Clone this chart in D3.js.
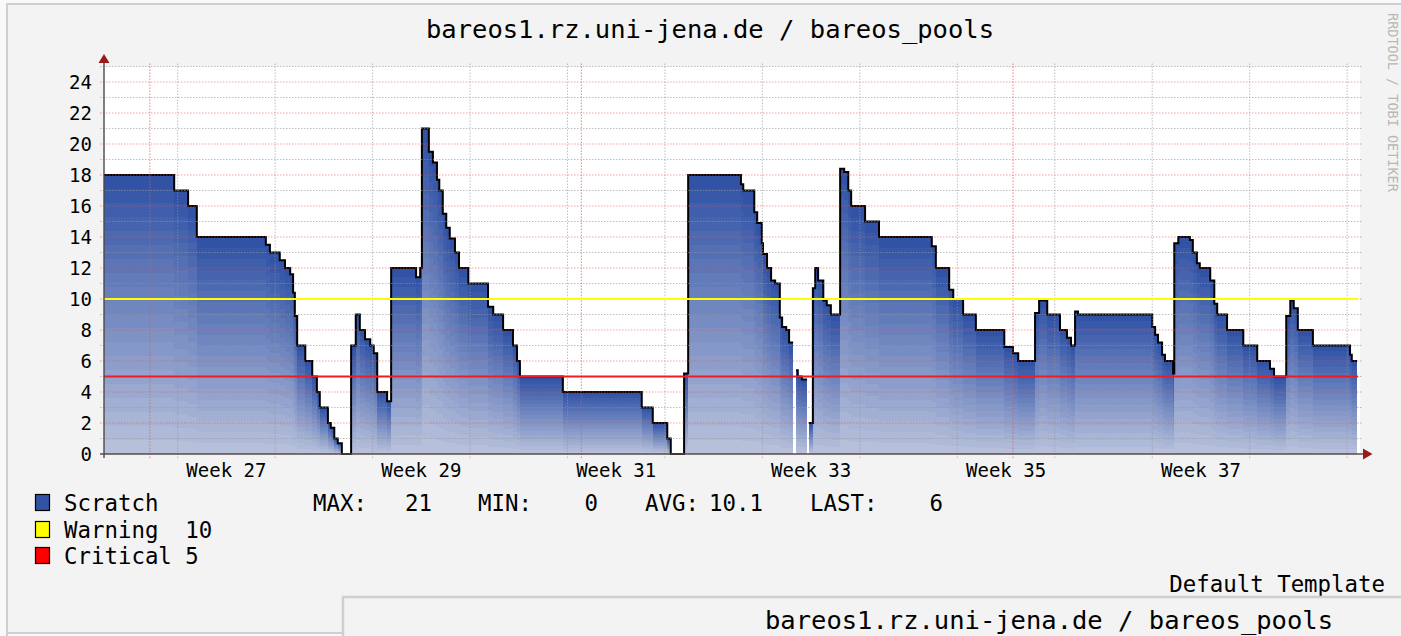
<!DOCTYPE html>
<html><head><meta charset="utf-8">
<script src="https://cdn.jsdelivr.net/npm/d3@7"></script>
<style>
html,body{margin:0;padding:0;background:#f8f9fa;overflow:hidden;}
svg{display:block;}
text{font-family:"DejaVu Sans Mono",monospace;}
</style></head><body>
<svg id="chart" width="1401" height="636"></svg>
<script>
// ---- data ----
const chartTitle = "bareos1.rz.uni-jena.de / bareos_pools";
const startTime = "2017-06-27T17:00:00Z";
const endTime   = "2017-09-25T17:00:00Z";
// hour offsets (from startTime) at which each step value begins
const stepHours = [0,121,145,160,279,286,303,312,321,326,
  329,333,347,359,367,372,386,391,397,403,
  410,426,434,441,450,459,465,471,488,495,
  538,545,548,560,567,574,578,584,590,596,
  605,612,628,662,671,688,705,712,717,791,
  927,946,971,977,1000,1007,1098,1102,1121,1126,
  1134,1136,1143,1150,1157,1165,1169,1176,1181,1188,
  1193,1196,1203,1212,1215,1222,1226,1231,1240,1246,
  1253,1269,1276,1283,1288,1312,1336,1427,1434,1457,
  1464,1481,1503,1552,1567,1576,1605,1612,1626,1648,
  1660,1667,1674,1679,1807,1812,1817,1824,1829,1843,
  1845,1852,1872,1877,1884,1889,1907,1914,1919,1936,
  1964,1988,2010,2017,2038,2045,2051,2058,2084,2148,2151];
// Scratch volumes (null = no data)
const scratchValues = [18,17,16,14,13.5,13,12.5,12,11.6,10.4,
  8.9,7,6,5,4,3,2,1.7,1,0.7,
  0,7,9,8,7.4,7,6.5,4,3.4,12,
  11.4,12,21,19.5,18.8,17.7,17,15.5,14.6,13.9,
  13,12,11,9.5,9,8,7,6,5,4,
  3,2,1,0,5.2,18,17.4,17,15.6,14.9,
  13.6,12.9,12,11.2,11,8.8,8.2,8,7.2,null,
  5.4,5,4.8,null,2,10.7,12,11.2,9.9,9.6,
  9,18.4,18.2,17,16,15,14,13.4,12,10.6,
  10,9,8,6.9,6.5,6,9.1,9.9,9,8,
  7.5,7,9.2,9,8.2,7.7,7.2,6.4,6,5.2,
  13.6,14,13.8,13,12.3,12,11.2,9.7,9,8,
  7,6,5.5,5,8.9,9.9,9.4,8,7,6.4,6];
const warningLevel = 10;
const criticalLevel = 5;
const yTicks = [0,2,4,6,8,10,12,14,16,18,20,22,24];
const yMax = 25;
const weekLabels = ["Week 27","Week 29","Week 31","Week 33","Week 35","Week 37"];
const weekLabelStarts = ["2017-07-03","2017-07-17","2017-07-31","2017-08-14","2017-08-28","2017-09-11"];
const statLabels = ["MAX:","MIN:","AVG:","LAST:"];
const statValues = ["21","0","10.1","6"];
const legendNames = ["Scratch","Warning  10","Critical 5"];
const legendColors = ["#3152A5","#FFFF00","#FF0000"];

// ---- drawing ----
const svg = d3.select("#chart");
const W = 1401, H = 636;
const T0 = new Date(startTime), T1 = new Date(endTime);
const HOUR = 3600e3;

const x = d3.scaleUtc().domain([T0, T1]).range([104, 1357]);
const y = d3.scaleLinear().domain([0, yMax]).range([454, 66.5]);
const plotL = 104, plotR = 1360, plotT = y(yMax), plotB = y(0);

// page & panel
svg.append("rect").attr("width", W).attr("height", H).attr("fill", "#f8f9fa");
svg.append("rect").attr("x", 7).attr("y", 4).attr("width", W).attr("height", 630).attr("fill", "#f3f3f3");
svg.append("line").attr("x1", 6).attr("x2", W).attr("y1", 4).attr("y2", 4).attr("stroke", "#cfcfcf").attr("stroke-width", 2);
svg.append("line").attr("x1", 7).attr("x2", 7).attr("y1", 3).attr("y2", H).attr("stroke", "#cfcfcf").attr("stroke-width", 2);
svg.append("line").attr("x1", 6).attr("x2", 344).attr("y1", 633).attr("y2", 633).attr("stroke", "#cfcfcf").attr("stroke-width", 2);

// canvas
svg.append("rect").attr("x", plotL).attr("y", plotT).attr("width", plotR - plotL).attr("height", plotB - plotT).attr("fill", "#ffffff");

// build step points
const pts = [];
stepHours.forEach((h, i) => {
  const t0 = new Date(+T0 + h * HOUR);
  const t1 = i + 1 < stepHours.length ? new Date(+T0 + stepHours[i + 1] * HOUR) : T1;
  const v = scratchValues[i];
  if (v === null) { pts.push({t: t0, v: null}); return; }
  pts.push({t: t0, v: v}, {t: t1, v: v});
});

// gradient areas (20 steps)
const steps = 20;
const light = d3.rgb("#BDC6DE"), dark = d3.rgb("#3152A5");
const interp = d3.interpolateRgb(light, dark);
const gArea = svg.append("g");
for (let k = steps; k >= 1; k--) {
  const area = d3.area()
    .defined(d => d.v !== null)
    .x(d => x(d.t))
    .y0(plotB)
    .y1(d => y(d.v * k / steps));
  gArea.append("path").datum(pts).attr("d", area)
    .attr("fill", interp(k / steps)).attr("shape-rendering", "crispEdges");
}

// data line
const line = d3.line().defined(d => d.v !== null).x(d => x(d.t)).y(d => y(d.v));
svg.append("path").datum(pts).attr("d", line)
  .attr("fill", "none").attr("stroke", "#000").attr("stroke-width", 2);

// grid
const gGrid = svg.append("g");
for (let v = 1; v <= yMax; v++) {
  const major = v % 2 === 0;
  gGrid.append("line").attr("x1", 100).attr("x2", 1362).attr("y1", y(v)).attr("y2", y(v))
    .attr("stroke", major ? "rgba(240,80,80,0.55)" : "rgba(150,150,150,0.6)")
    .attr("stroke-width", 1).attr("stroke-dasharray", "1.5,1.5");
}
const weeks = d3.utcMonday.range(T0, T1);
const months = d3.utcMonth.range(T0, T1);
weeks.forEach(d => {
  gGrid.append("line").attr("x1", x(d)).attr("x2", x(d)).attr("y1", plotT - 3).attr("y2", plotB + 4)
    .attr("stroke", "rgba(150,150,150,0.6)").attr("stroke-width", 1).attr("stroke-dasharray", "1.5,1.5");
});
months.forEach(d => {
  gGrid.append("line").attr("x1", x(d)).attr("x2", x(d)).attr("y1", plotT - 3).attr("y2", plotB + 4)
    .attr("stroke", "rgba(240,80,80,0.6)").attr("stroke-width", 1.2).attr("stroke-dasharray", "1.5,1.5");
});

// thresholds
svg.append("line").attr("x1", plotL).attr("x2", 1358).attr("y1", y(warningLevel)).attr("y2", y(warningLevel))
  .attr("stroke", "#FFFF00").attr("stroke-width", 2.2);
svg.append("line").attr("x1", plotL).attr("x2", 1358).attr("y1", y(criticalLevel)).attr("y2", y(criticalLevel))
  .attr("stroke", "#F01C24").attr("stroke-width", 2.2);

// axes
svg.append("line").attr("x1", 100).attr("x2", 1364).attr("y1", plotB).attr("y2", plotB)
  .attr("stroke", "#5a4a4a").attr("stroke-width", 1.6);
svg.append("line").attr("x1", plotL).attr("x2", plotL).attr("y1", plotB + 4).attr("y2", 60)
  .attr("stroke", "#4a4a4a").attr("stroke-width", 1.4);
svg.append("path").attr("d", `M1363,${plotB - 5.5}L1372.5,${plotB}L1363,${plotB + 5.5}Z`).attr("fill", "#9a1a1a");
svg.append("path").attr("d", `M${plotL - 5.5},63L${plotL},54L${plotL + 5.5},63Z`).attr("fill", "#9a1a1a");

// y labels
svg.append("g").selectAll("text").data(yTicks).join("text")
  .attr("x", 92).attr("y", d => y(d) + 7).attr("text-anchor", "end")
  .attr("font-size", 19).attr("fill", "#000").text(d => d);

// x labels
svg.append("g").selectAll("text").data(weekLabels).join("text")
  .attr("x", (d, i) => x(new Date(+new Date(weekLabelStarts[i] + "T00:00:00Z") + 3.5 * 24 * HOUR)))
  .attr("y", 477).attr("text-anchor", "middle").attr("font-size", 19).attr("fill", "#000")
  .text(d => d);

// title
svg.append("text").attr("x", 710).attr("y", 38).attr("text-anchor", "middle")
  .attr("font-size", 25.5).attr("fill", "#000").text(chartTitle);

// watermark
svg.append("text").attr("transform", "translate(1388,13) rotate(90)")
  .attr("font-size", 13.5).attr("fill", "#b8b8b8").text("RRDTOOL / TOBI OETIKER");

// legend
const legBase = [511, 538, 564];
legendNames.forEach((n, i) => {
  svg.append("rect").attr("x", 35.5).attr("y", legBase[i] - 16.5).attr("width", 14).attr("height", 16)
    .attr("fill", legendColors[i]).attr("stroke", "#000").attr("stroke-width", 1.2);
  svg.append("text").attr("x", 64).attr("y", legBase[i]).attr("font-size", 22.4)
    .attr("fill", "#000").attr("xml:space", "preserve").style("white-space", "pre").text(n);
});
const statLabelX = [313, 478, 645, 810];
const statValueX = [432, 598, 763, 943];
statLabels.forEach((s, i) => {
  svg.append("text").attr("x", statLabelX[i]).attr("y", 511).attr("font-size", 22.4).attr("fill", "#000").text(s);
  svg.append("text").attr("x", statValueX[i]).attr("y", 511).attr("font-size", 22.4).attr("text-anchor", "end")
    .attr("fill", "#000").text(statValues[i]);
});
svg.append("text").attr("x", 1385).attr("y", 592).attr("text-anchor", "end").attr("font-size", 22.4)
  .attr("fill", "#000").text("Default Template");

// second panel (next graph peeking in)
svg.append("rect").attr("x", 343).attr("y", 597).attr("width", W).attr("height", 60).attr("fill", "#f3f3f3");
svg.append("line").attr("x1", 342).attr("x2", W).attr("y1", 597).attr("y2", 597).attr("stroke", "#cfcfcf").attr("stroke-width", 2.5);
svg.append("line").attr("x1", 343).attr("x2", 343).attr("y1", 596).attr("y2", H).attr("stroke", "#cfcfcf").attr("stroke-width", 2.5);
svg.append("text").attr("x", 1049).attr("y", 629).attr("text-anchor", "middle")
  .attr("font-size", 25.5).attr("fill", "#000").text(chartTitle);
</script>
</body></html>
